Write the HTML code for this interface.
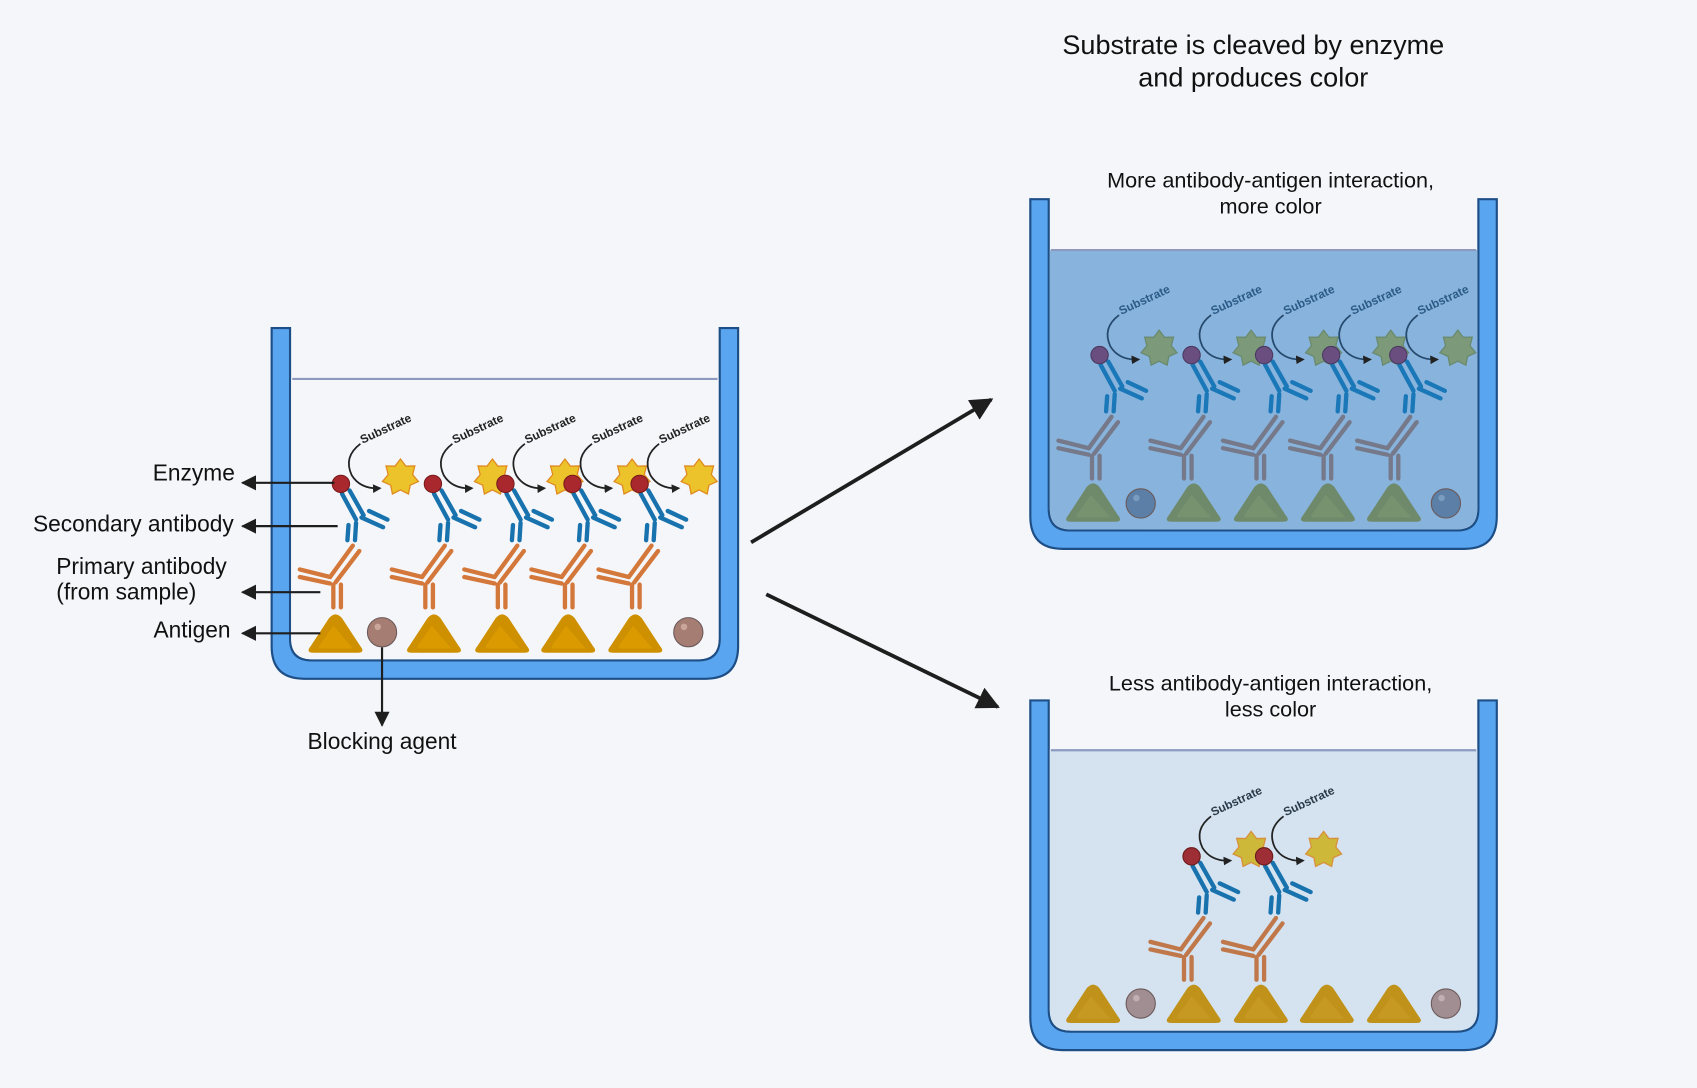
<!DOCTYPE html>
<html><head><meta charset="utf-8"><style>
html,body{margin:0;padding:0;background:#f5f6fa;}
svg{display:block;font-family:"Liberation Sans",Arial,sans-serif;}
</style></head><body>
<svg id="s" width="1697" height="1088" viewBox="0 0 1568 1005" preserveAspectRatio="none" xmlns="http://www.w3.org/2000/svg">
<defs>
<marker id="ah" viewBox="0 0 10 10" refX="9" refY="5" markerWidth="7" markerHeight="7" orient="auto" markerUnits="strokeWidth"><path d="M0,0 L10,5 L0,10 z" fill="#1e1e1e"/></marker>
<marker id="ab" viewBox="0 0 10 10" refX="9" refY="5" markerWidth="6" markerHeight="6" orient="auto" markerUnits="strokeWidth"><path d="M0,0 L10,5 L0,10 z" fill="#1e1e1e"/></marker>
<marker id="sm" viewBox="0 0 10 10" refX="8" refY="5" markerWidth="5" markerHeight="5" orient="auto"><path d="M0,0 L10,5 L0,10 z" fill="#222"/></marker>
</defs>
<rect width="1568" height="1005" fill="#f5f6fa"/>
<g id="wells"></g>
<g id="units"></g>
<g font-size="21" fill="#111">
<text x="1158" y="50" text-anchor="middle" font-size="25">Substrate is cleaved by enzyme</text>
<text x="1158" y="80" text-anchor="middle" font-size="25">and produces color</text>
<text x="1174" y="173" text-anchor="middle" font-size="20">More antibody-antigen interaction,</text>
<text x="1174" y="197" text-anchor="middle" font-size="20">more color</text>
<text x="1174" y="638" text-anchor="middle" font-size="20">Less antibody-antigen interaction,</text>
<text x="1174" y="662" text-anchor="middle" font-size="20">less color</text>
<text x="217" y="444" text-anchor="end">Enzyme</text>
<text x="216" y="491" text-anchor="end">Secondary antibody</text>
<text x="52" y="530">Primary antibody</text>
<text x="52" y="554">(from sample)</text>
<text x="213" y="589" text-anchor="end">Antigen</text>
<text x="353" y="692" text-anchor="middle">Blocking agent</text>
</g>
<g stroke="#1e1e1e" stroke-width="2" fill="none">
<line x1="309" y1="446" x2="224" y2="446" marker-end="url(#ah)"/>
<line x1="312" y1="486" x2="224" y2="486" marker-end="url(#ah)"/>
<line x1="296" y1="547" x2="224" y2="547" marker-end="url(#ah)"/>
<line x1="296" y1="585" x2="224" y2="585" marker-end="url(#ah)"/>
<line x1="353" y1="598" x2="353" y2="670" marker-end="url(#ah)"/>
</g>
<g stroke="#1e1e1e" stroke-width="3.5" fill="none">
<line x1="694" y1="501" x2="916" y2="369" marker-end="url(#ab)"/>
<line x1="708" y1="549" x2="922" y2="653" marker-end="url(#ab)"/>
</g>
</svg>
<script>
const NS="http://www.w3.org/2000/svg";
function el(p,t,a){const e=document.createElementNS(NS,t);for(const k in a)e.setAttribute(k,a[k]);p.appendChild(e);return e;}
const W=document.getElementById('wells'),U=document.getElementById('units');
function well(x1,x2,top,bot,water,fill){
  const t=17,r=30;
  el(W,'path',{d:`M${x1},${top} L${x1},${bot-r} Q${x1},${bot} ${x1+r},${bot} L${x2-r},${bot} Q${x2},${bot} ${x2},${bot-r} L${x2},${top} L${x2-t},${top} L${x2-t},${bot-t-r+10} Q${x2-t},${bot-t} ${x2-t-r+10},${bot-t} L${x1+t+r-10},${bot-t} Q${x1+t},${bot-t} ${x1+t},${bot-t-r+10} L${x1+t},${top} Z`,fill:'#5aa5f0',stroke:'#1d4f86','stroke-width':2});
  el(W,'path',{d:`M${x1+t+1},${water} L${x1+t+1},${bot-t-r+10} Q${x1+t+1},${bot-t-1} ${x1+t+r-9},${bot-t-1} L${x2-t-r+9},${bot-t-1} Q${x2-t-1},${bot-t-1} ${x2-t-1},${bot-t-r+10} L${x2-t-1},${water} Z`,fill:fill});
  el(W,'line',{x1:x1+t+2,y1:water,x2:x2-t-2,y2:water,stroke:'#8c9ac0','stroke-width':2});
}
well(251,682,303,627,350,'#f5f6fa');
well(952,1383,184,507,231,'#88b3dc');
well(952,1383,647,970,693,'#d5e3f0');
function tri(cx,base,c1,c2){
  el(U,'path',{d:`M${cx-20},${base} Q${cx-28},${base} ${cx-23},${base-6} L${cx-6},${base-32} Q${cx},${base-39} ${cx+6},${base-32} L${cx+23},${base-6} Q${cx+28},${base} ${cx+20},${base} Z`,fill:c1});
  el(U,'path',{d:`M${cx-13},${base-4} Q${cx-17},${base-4} ${cx-14},${base-8} L${cx-2},${base-25} L${cx+16},${base-4} Z`,fill:c2,opacity:.5});
}
function ball(cx,cy,c,h){el(U,'circle',{cx,cy,r:13.5,fill:c,stroke:'#6c5a5a','stroke-width':1});el(U,'circle',{cx:cx-4,cy:cy-5,r:3,fill:h});}
function star(cx,cy,r,f,s){let d='';for(let i=0;i<14;i++){const a=-Math.PI/2+i*Math.PI/7,rr=i%2?r*0.68:r;d+=(i?'L':'M')+(cx+rr*Math.cos(a)).toFixed(1)+','+(cy+rr*Math.sin(a)).toFixed(1);}el(U,'path',{d:d+'Z',fill:f,stroke:s,'stroke-width':1.2});}
function ln(x1,y1,x2,y2,c,w){el(U,'line',{x1,y1,x2,y2,stroke:c,'stroke-width':w||4,'stroke-linecap':'round'});}
function unit(ex,ey,o){
  const B=o.blue,P=o.prim;
  el(U,'path',{d:`M${ex+18},${ey-37} Q${ex+2},${ey-25} ${ex+10},${ey-8} Q${ex+18},${ey+5} ${ex+36},${ey+4}`,fill:'none',stroke:o.arr,'stroke-width':1.6,'marker-end':'url(#sm)'});
  const t=el(U,'text',{x:ex+20,y:ey-37,'font-size':11,'font-weight':'bold',fill:o.txt,transform:`rotate(-25 ${ex+20} ${ey-37})`});t.textContent='Substrate';
  star(ex+55,ey-6,17,o.sf,o.ss);
  ln(ex+1,ey+9,ex+14,ey+33,B);ln(ex+8,ey+6,ex+21,ey+29,B);
  ln(ex+19,ey+31,ex+39,ey+40,B);ln(ex+26,ey+25,ex+43,ey+33,B);
  ln(ex+7,ey+38,ex+6,ey+52,B);ln(ex+14,ey+36,ex+13,ey+52,B);
  if(P){
    ln(ex+11,ey+57,ex-10,ey+86,P);ln(ex+17,ey+62,ex-5,ey+91,P);
    ln(ex-10,ey+86,ex-38,ey+79,P);ln(ex-10,ey+92,ex-38,ey+86,P);
    ln(ex-7,ey+93,ex-7,ey+114,P);ln(ex,ey+93,ex,ey+114,P);
  }
  el(U,'circle',{cx:ex,cy:ey,r:8,fill:o.enz,stroke:o.enzs,'stroke-width':1});
}
const L={blue:'#1872ad',prim:'#d3783a',enz:'#a8282e',enzs:'#7a1a1a',sf:'#ecc32a',ss:'#e08a20',arr:'#222',txt:'#222'};
[[310,'t'],[353,'b'],[401,'t'],[464,'t'],[525,'t'],[587,'t'],[636,'b']].forEach(([x,k])=>k=='t'?tri(x,603,'#cf9000','#e6a400'):ball(x,584,'#a57d72','#c9a59a'));
[315,400,467,529,591].forEach(x=>unit(x,447,L));
const G={blue:'#1a78b8',prim:'#75798a',enz:'#6a4e7f',enzs:'#4a3a60',sf:'#7c9a7a',ss:'#6a8a6e',arr:'#254a6e',txt:'#2a5a86'};
[[1010,'t'],[1054,'b'],[1103,'t'],[1165,'t'],[1227,'t'],[1288,'t'],[1336,'b']].forEach(([x,k])=>k=='t'?tri(x,482,'#6e8a6a','#7e9a72'):ball(x,465,'#5b7fa6','#7a9cc0'));
[1016,1101,1168,1230,1292].forEach(x=>unit(x,328,G));
const Bt={blue:'#1872ad',prim:'#c0784a',enz:'#9e2e36',enzs:'#6a1a1a',sf:'#cdb83a',ss:'#d8903a',arr:'#222',txt:'#2a3a4a'};
[[1010,'t'],[1054,'b'],[1103,'t'],[1165,'t'],[1226,'t'],[1288,'t'],[1336,'b']].forEach(([x,k])=>k=='t'?tri(x,945,'#c0921a','#caa02a'):ball(x,927,'#a08e92','#c0b0b4'));
[1101,1168].forEach(x=>unit(x,791,Bt));
</script>
</body></html>
